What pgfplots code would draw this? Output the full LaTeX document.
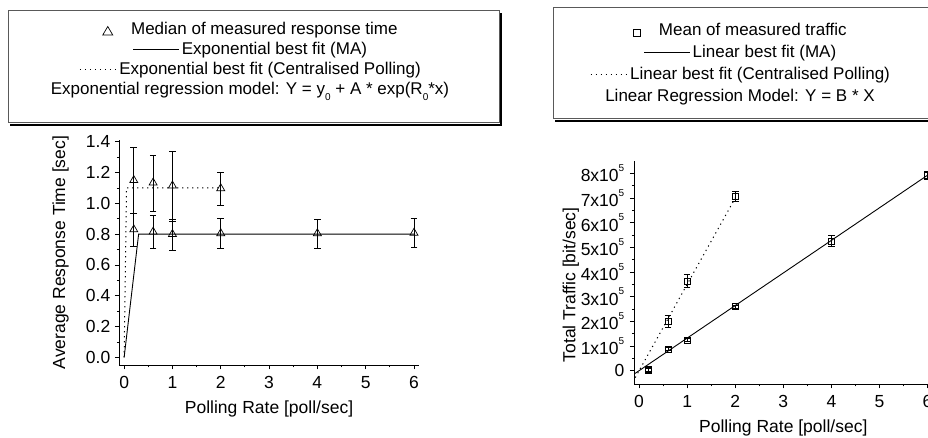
\documentclass[border=0pt]{standalone}
\usepackage{fontspec}
\setmainfont{Liberation Sans}
\usepackage{pgfplots}
\pgfplotsset{compat=1.18}

% response time (left), median and error bar ends
\pgfplotstableread{
x    y      ep     em
0.2  0.830  0.105  0.110
0.6  0.815  0.105  0.105
1    0.800  0.095  0.105
2    0.805  0.095  0.100
4    0.805  0.090  0.095
6    0.808  0.092  0.095
}\rtMA
\pgfplotstableread{
x    y      ep     em
0.2  1.150  0.210  0.215
0.6  1.134  0.176  0.188
1    1.115  0.225  0.235
2    1.097  0.103  0.110
}\rtCP
% traffic (right)
\pgfplotstableread{
x    y       ep     em
0.2  3000    7000   7000
0.6  88000   6000   6000
1    124000  6000   6000
2    260000  6000   6000
4    526000  22000  22000
6    790000  16000  16000
}\trMA
\pgfplotstableread{
x    y       ep     em
0.2  6000    9000   9000
0.6  199000  25000  25000
1    364000  25000  25000
2    708000  20000  20000
}\trCP

\newcommand{\tickfont}{\fontsize{17.5}{20}\selectfont}
\newcommand{\labfont}{\fontsize{17.5}{20}\selectfont}
\newcommand{\legfont}{\fontsize{17}{20}\selectfont}
\newcommand{\sci}[1]{#1x10\raisebox{0.6em}{\fontsize{10}{10}\selectfont 5}}
\newcommand{\sub}{\raisebox{-0.3em}{\fontsize{10}{10}\selectfont 0}}
\newcommand{\solidkey}{\tikz[baseline=-0.33em]\draw[line width=0.9pt] (0pt,0pt) -- (46pt,0pt);}
\newcommand{\dotkey}{\tikz[baseline=-0.33em]\draw[dotfit] (0pt,0pt) -- (36pt,0pt);}

\tikzset{dotfit/.style={line width=1pt, dash pattern=on 1.2pt off 3.8pt}}
\pgfplotsset{
  orig/.style={
    scale only axis, axis lines=left,
    axis line style={-, line width=0.9pt},
    tick align=outside, major tick length=4.5pt, minor tick length=2.5pt,
    every tick/.style={black, line width=0.8pt},
    minor x tick num=1, minor y tick num=1,
    tick label style={font=\tickfont},
    label style={font=\labfont},
    /pgf/number format/assume math mode=true,
    xmin=-0.1, xmax=6.1, xtick={0,1,2,3,4,5,6},
    xticklabel style={anchor=center, yshift=-13pt},
    xlabel={Polling Rate [poll/sec]},
    xlabel style={at={([yshift=-44pt]axis description cs:0.5,0)}, anchor=center},
    clip=false,
  },
  errs/.style={error bars/y dir=both, error bars/y explicit,
    error bars/error bar style={line width=0.8pt},
    error bars/error mark options={rotate=90, mark size=3.3pt, line width=0.8pt}},
}

\begin{document}
\begin{tikzpicture}[x=1pt,y=1pt]
\useasboundingbox (0,0) rectangle (928,438);

% ---- legend boxes ----
\draw[black, line width=2.2pt] (10,438-125) -- (501,438-125) -- (501,438-13);
\draw[gray!70!black, line width=1pt, fill=white] (8,438-10.7) rectangle (499,438-123);
\draw[black, line width=2.2pt] (555,438-121) -- (940,438-121);
\draw[gray!70!black, line width=1pt, fill=white] (553,438-8) rectangle (940,438-119);

\begin{scope}[every node/.style={font=\legfont, inner sep=0pt, anchor=base}]
  \node at (250,438-35) {\tikz[baseline=0pt]\draw[line width=0.7pt] (0pt,0pt) -- (10pt,0pt) -- (5pt,8.5pt) -- cycle;\hspace{18pt}Median of measured response time};
  \node at (250,438-55) {\solidkey\hspace{2pt}Exponential best fit (MA)};
  \node at (250,438-75) {\dotkey\hspace{3pt}Exponential best fit (Centralised Polling)};
  \node at (250,438-95) {Exponential regression model: Y = y\sub{} + A * exp(R\sub{}*x)};

  \node at (740,438-36) {\tikz[baseline=0pt]\draw[line width=0.7pt] (0pt,0pt) rectangle (7pt,7pt);\hspace{18pt}Mean of measured traffic};
  \node at (740,438-58) {\solidkey\hspace{2pt}Linear best fit (MA)};
  \node at (740,438-80) {\dotkey\hspace{3pt}Linear best fit (Centralised Polling)};
  \node at (740,438-102) {Linear Regression Model: Y = B * X};
\end{scope}

% ---- left: response time ----
\begin{axis}[orig,
  at={(119.3pt,73pt)}, anchor=south west,
  width=299.5pt, height=224.8pt,
  ymin=-0.05, ymax=1.41,
  ytick={0,0.2,0.4,0.6,0.8,1.0,1.2,1.4},
  yticklabel style={/pgf/number format/fixed, /pgf/number format/fixed zerofill,
    /pgf/number format/precision=1, anchor=east, xshift=-1pt},
  ylabel={Average Response Time [sec]},
  ylabel style={at={([xshift=-58.8pt]axis description cs:0,0.5)}, anchor=center},
]
  \addplot[black, line width=0.9pt] coordinates {(0,0) (0.3,0.8) (6,0.8)};
  \addplot[black, dotfit] coordinates {(0,0) (0.05,1.1) (2,1.1)};
  \addplot[black, only marks, mark=triangle, mark size=4.6pt,
    mark options={fill=white, line width=0.7pt}, errs]
    table[x=x, y=y, y error plus=ep, y error minus=em] {\rtMA};
  \addplot[black, only marks, mark=triangle, mark size=4.6pt,
    mark options={fill=white, line width=0.7pt}, errs]
    table[x=x, y=y, y error plus=ep, y error minus=em] {\rtCP};
\end{axis}

% ---- right: traffic ----
\begin{axis}[orig,
  at={(634.3pt,54pt)}, anchor=south west,
  width=298pt, height=223.3pt,
  ymin=-54000, ymax=851000, scaled y ticks=false,
  ytick={0,100000,200000,300000,400000,500000,600000,700000,800000},
  yticklabels={0,\sci1,\sci2,\sci3,\sci4,\sci5,\sci6,\sci7,\sci8},
  yticklabel style={anchor=east, xshift=-2pt},
  ylabel={Total Traffic [bit/sec]},
  ylabel style={at={([xshift=-63.5pt,yshift=-12.6pt]axis description cs:0,0.5)}, anchor=center},
]
  \addplot[black, line width=0.9pt] coordinates {(-0.1,-13200) (6.1,805200)};
  \addplot[black, dotfit] coordinates {(-0.08,-28000) (2,700000)};
  \addplot[black, only marks, mark=square, mark size=3pt,
    mark options={fill=white, line width=0.7pt}, errs]
    table[x=x, y=y, y error plus=ep, y error minus=em] {\trMA};
  \addplot[black, only marks, mark=square, mark size=3pt,
    mark options={fill=white, line width=0.7pt}, errs]
    table[x=x, y=y, y error plus=ep, y error minus=em] {\trCP};
\end{axis}
\end{tikzpicture}
\end{document}
